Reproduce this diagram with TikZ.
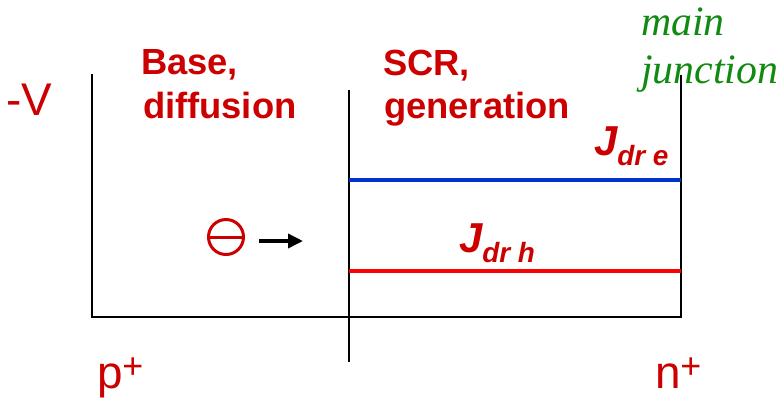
\documentclass[tikz,border=0pt]{standalone}
\usepackage{fontspec}
\setmainfont{Liberation Sans}
\newfontfamily\serifit{Liberation Serif}
\usetikzlibrary{arrows.meta}
\definecolor{txtred}{HTML}{CC0000}
\definecolor{linered}{HTML}{FF0000}
\definecolor{lineblue}{HTML}{0033CC}
\definecolor{jgreen}{HTML}{108A10}
\tikzset{
  lbl/.style={inner sep=0pt, outer sep=0pt, anchor=base west, text=txtred},
  big/.style={lbl, font=\fontsize{46}{46}\selectfont},
  bold/.style={lbl, font=\fontsize{36.5}{36.5}\selectfont\bfseries},
  green/.style={lbl, text=jgreen, font=\fontsize{42}{42}\selectfont\serifit\itshape},
  frame/.style={line width=1.5bp, black},
  flow/.style={line width=4bp},
}
\newcommand{\Jcur}[1]{{\fontsize{42}{42}\selectfont\bfseries\itshape J}\raisebox{-10bp}{\fontsize{28}{28}\selectfont\bfseries\itshape #1}}
\newcommand{\supplus}{\raisebox{10bp}{\fontsize{36}{36}\selectfont +}}
\begin{document}
\begin{tikzpicture}[x=1bp,y=-1bp]
\useasboundingbox (0,0) rectangle (782,397);
% labels
\node[big] (mv) at (6,115) {-V};
\node[bold] (base) at (141,74) {Base,};
\node[bold] (diff) at (143,118) {diffusion};
\node[bold] (scr) at (383,75) {SCR,};
\node[bold] (gen) at (384,118) {generation};
\node[green] (main) at (641,35) {main};
\node[green] (junc) at (641,83) {junction};
\node[lbl] (jdre) at (594,155) {\Jcur{dr e}};
\node[lbl] (jdrh) at (459,252) {\Jcur{dr h}};
\node[big] (pp) at (97,388) {p\supplus};
\node[big] (np) at (655,388) {n\supplus};
% frame coordinates
\coordinate (lt) at (92,74);
\coordinate (lb) at (92,317);
\coordinate (rt) at (681,75);
\coordinate (rb) at (681,317);
\coordinate (mt) at (349,90);
\coordinate (mb) at (349,362);
\coordinate (bt) at (349,180);
\coordinate (be) at (681,180);
\coordinate (ht) at (349,271);
\coordinate (he) at (681,271);
\draw[frame] (lt) -- (lb) -- (rb) -- (rt);
\draw[frame] (mt) -- (mb);
\draw[flow, lineblue] (bt) -- (be);
\draw[flow, linered] (ht) -- (he);
% electron symbol
\node[draw=txtred, line width=3bp, circle, minimum size=35bp, inner sep=0pt] (el) at (226,237) {};
\draw[txtred, line width=3bp] (el.west) -- (el.east);
\coordinate (as) at (259,241);
\coordinate (ae) at (303,241);
\draw[line width=3.5bp, -{Triangle[length=15bp,width=14bp]}] (as) -- (ae);
\end{tikzpicture}
\end{document}
